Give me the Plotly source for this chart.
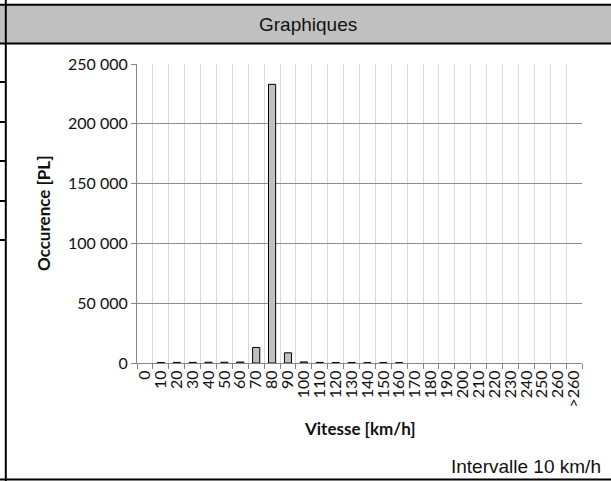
import plotly.graph_objects as go

# Speed classes (km/h) and truck counts per class
categories = [str(v) for v in range(0, 270, 10)] + [">260"]
occurrences = [0, 400, 500, 500, 600, 600, 800, 13000, 233000, 8500,
               900, 500, 400, 400, 300, 300, 300,
               0, 0, 0, 0, 0, 0, 0, 0, 0, 0, 0]
y_ticks = [0, 50000, 100000, 150000, 200000, 250000]

W, H = 611, 481
# plot area in pixels
PX0, PX1 = 137, 582
PY0, PY1 = 64, 363


def fx(px):
    return px / W


def fy(py):
    return 1 - py / H


CHART_FONT = "Lato, 'Open Sans', sans-serif"
FRAME_FONT = "'Liberation Sans', Arial, sans-serif"

# empty classes get no outline so they leave no mark on the axis
outline_widths = [1 if v > 0 else 0 for v in occurrences]

fig = go.Figure(
    go.Bar(
        x=categories,
        y=occurrences,
        marker=dict(color="#c0c0c0",
                    line=dict(color="#000000", width=outline_widths)),
        hoverinfo="x+y",
    )
)

shapes = []
# header band
shapes.append(dict(type="rect", xref="paper", yref="paper",
                   x0=0, x1=1, y0=fy(43), y1=fy(5),
                   fillcolor="#c0c0c0", line=dict(width=0), layer="below"))
# frame lines
frame_lines = [
    (0, 4.8, W, 4.8),      # top of header
    (0, 43.5, W, 43.5),    # bottom of header
    (0, 479.5, W, 479.5),  # bottom border
    (5.8, 0, 5.8, H),      # left border
]
for py in (82, 122, 161, 201, 240):
    frame_lines.append((0, py, 5.8, py))
for x0, y0, x1, y1 in frame_lines:
    shapes.append(dict(type="line", xref="paper", yref="paper",
                       x0=fx(x0), x1=fx(x1), y0=fy(y0), y1=fy(y1),
                       line=dict(color="#000000", width=2)))

annotations = [
    dict(text="Graphiques", x=fx(308), y=fy(24), xref="paper", yref="paper",
         showarrow=False, xanchor="center", yanchor="middle",
         font=dict(family=FRAME_FONT, size=19, color="#111111")),
    dict(text="Intervalle 10 km/h", x=fx(603), y=fy(466), xref="paper", yref="paper",
         showarrow=False, xanchor="right", yanchor="middle",
         font=dict(family=FRAME_FONT, size=19, color="#111111")),
    dict(text="<b>Occurence [PL]</b>", x=fx(43), y=fy(214), xref="paper", yref="paper",
         showarrow=False, textangle=-90, xanchor="center", yanchor="middle",
         font=dict(family=CHART_FONT, size=17, color="#111111")),
    dict(text="<b>Vitesse [km/h]</b>", x=fx(360), y=fy(428), xref="paper", yref="paper",
         showarrow=False, xanchor="center", yanchor="middle",
         font=dict(family=CHART_FONT, size=17, color="#111111")),
]

fig.update_layout(
    width=W, height=H,
    margin=dict(l=0, r=0, t=0, b=0, autoexpand=False),
    paper_bgcolor="#ffffff",
    plot_bgcolor="#ffffff",
    separators=", ",
    bargap=0.55,
    showlegend=False,
    font=dict(family=CHART_FONT, size=16, color="#111111"),
    shapes=shapes,
    annotations=annotations,
    xaxis=dict(
        domain=[fx(PX0), fx(PX1)],
        type="category",
        categoryorder="array",
        categoryarray=categories,
        tickmode="array",
        tickvals=categories,
        ticktext=categories,
        tickson="boundaries",
        tickangle=-90,
        ticks="outside",
        ticklen=5,
        tickcolor="#868686",
        showline=True,
        linecolor="#868686",
        linewidth=1,
        showgrid=True,
        gridcolor="#d9d9d9",
        gridwidth=1,
        automargin=False,
        tickfont=dict(family=CHART_FONT, size=16, color="#111111"),
    ),
    yaxis=dict(
        domain=[fy(PY1), fy(PY0)],
        range=[0, 250000],
        tickvals=y_ticks,
        tickformat=",d",
        ticks="outside",
        ticklen=5,
        tickcolor="#868686",
        showline=True,
        linecolor="#868686",
        linewidth=1,
        showgrid=True,
        gridcolor="#8c8c8c",
        gridwidth=1,
        zeroline=False,
        automargin=False,
        tickfont=dict(family=CHART_FONT, size=16, color="#111111"),
    ),
)

fig.write_html("out.html")
